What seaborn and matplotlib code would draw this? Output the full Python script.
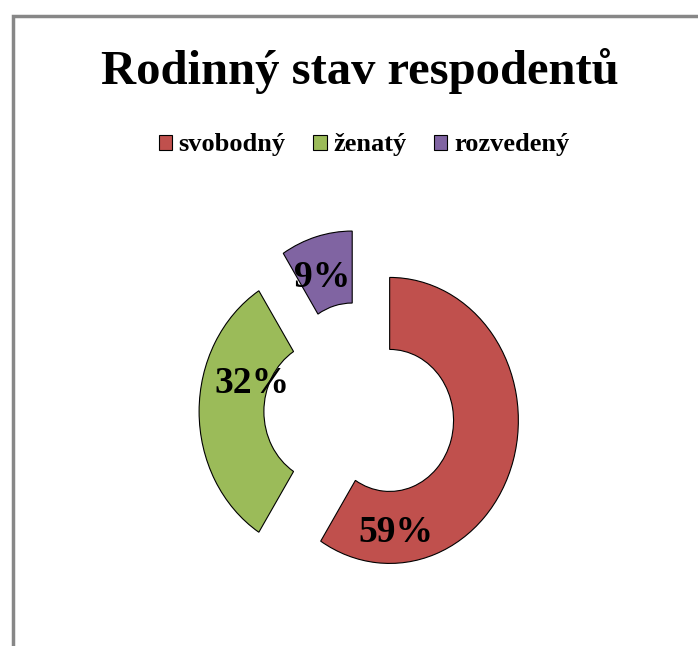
import matplotlib
matplotlib.use("Agg")
import matplotlib.pyplot as plt
import seaborn as sns
from matplotlib.patches import Rectangle

# ---- data ----
title = "Rodinný stav respodentů"
categories = ["svobodný", "ženatý", "rozvedený"]
values = [59, 32, 9]
color_hex = ["#C0504D", "#9BBB59", "#8064A2"]

sns.set_theme(style="white")
plt.rcParams["font.family"] = ["Liberation Serif", "DejaVu Serif"]
plt.rcParams["font.weight"] = "bold"
plt.rcParams["text.color"] = "black"

W, H = 698, 646
SX = 0.9  # horizontal squeeze of the reference
palette = sns.color_palette(color_hex)

fig = plt.figure(figsize=(W / 100, H / 100), dpi=100)
fig.patch.set_facecolor("white")
ax = fig.add_axes([0, 0, 1, 1])

def px(x, y):
    return x / SX, H - y

center = px(362, 411.5)
wedges, _ = ax.pie(
    values,
    colors=palette,
    startangle=90,
    counterclock=False,
    explode=[32, 38, 39],
    radius=143,
    center=center,
    wedgeprops=dict(width=72, edgecolor="black", linewidth=0.8),
)
ax.set_xlim(0, W / SX)
ax.set_ylim(0, H)
ax.set_aspect("auto")
ax.axis("off")

# percentage labels
label_pos = [(396, 542), (251.5, 393), (322.5, 287)]
for v, (lx, ly), w in zip(values, label_pos, wedges):
    ax.text(*px(lx, ly), f"{v}%", ha="center", va="baseline",
            fontsize=27, fontweight="bold", color="black")

# title
fig.text(360 / W, 1 - 84 / H, title, ha="center", va="baseline",
         fontsize=35, fontweight="bold", color="black")

# legend
leg = fig.legend(wedges, categories, loc="center",
                 bbox_to_anchor=(364 / W, 1 - 145 / H), ncol=3,
                 frameon=False, fontsize=19, handlelength=0.5,
                 handleheight=0.5, handletextpad=0.25, columnspacing=1.05,
                 borderpad=0, borderaxespad=0)
for t in leg.get_texts():
    t.set_fontweight("bold")
    t.set_color("black")

# frame border (left and top visible)
fig.add_artist(Rectangle((12.5 / W, -0.1), 1.2, (1 - 15.5 / H) + 0.1,
                         transform=fig.transFigure, fill=False,
                         edgecolor="#878787", linewidth=2.5))

fig.savefig("out.png", dpi=100, facecolor="white")
